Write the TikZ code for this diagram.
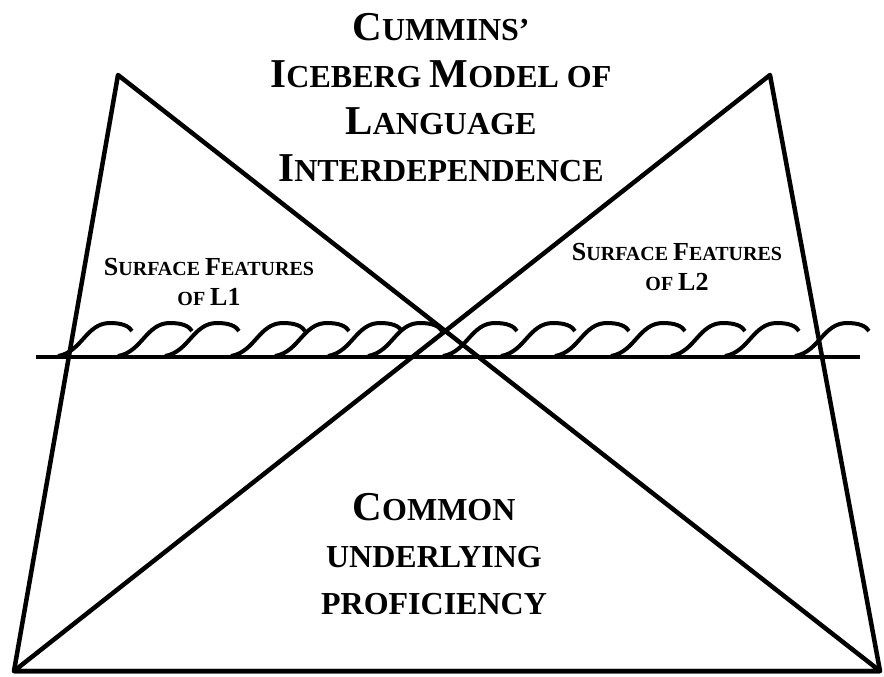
\documentclass[tikz,border=0pt]{standalone}
\usepackage{fontspec}
\setmainfont{Liberation Serif}
\usetikzlibrary{calc}
\newcommand{\capT}[1]{{\fontsize{41}{47}\selectfont #1}}
\newcommand{\capS}[1]{{\fontsize{26}{30}\selectfont #1}}

\begin{document}
\begin{tikzpicture}[x=1pt,y=-1pt,
  edge/.style={line width=4.5pt,line join=round},
  wave/.style={line width=4pt},
  titletext/.style={inner sep=0pt,align=center,font=\bfseries\fontsize{32}{47}\selectfont},
  surftext/.style={inner sep=0pt,align=center,font=\bfseries\fontsize{20}{30}\selectfont}]
\useasboundingbox (0,0) rectangle (884,677);
%% the two triangles
\coordinate (apexL) at (118,75);
\coordinate (apexR) at (770,75);
\coordinate (botL) at (14,671);
\coordinate (botR) at (880,671);
\draw[edge] (apexL) -- (botL) -- (botR) -- cycle;
\draw[edge] (apexR) -- (botL) -- (botR) -- cycle;
%% waterline and waves
\coordinate (seaL) at (36,357);
\coordinate (seaR) at (860,357);
\draw[edge] (seaL) -- (seaR);
\foreach \c in {110,170,217,283,327,380,420,495,553,607,663,723,777,847}
   \draw[wave] (\c-52,356) .. controls (\c-28,352) and (\c-24,323) .. (\c,323) .. controls (\c+12,323) and (\c+19,326) .. (\c+22,331);
%% labels
\node[titletext,anchor=north] (title) at (441,13) {\capT{C}UMMINS’\\ \capT{I}CEBERG \capT{M}ODEL OF\\ \capT{L}ANGUAGE\\ \capT{I}NTERDEPENDENCE};
\node[surftext,anchor=north] (surfL1) at (209,258) {\capS{S}URFACE \capS{F}EATURES\\ OF \capS{L1}};
\node[surftext,anchor=north] (surfL2) at (677,243) {\capS{S}URFACE \capS{F}EATURES\\ OF \capS{L2}};
\node[titletext,anchor=north] (cup) at (434,493) {\capT{C}OMMON\\ UNDERLYING\\ PROFICIENCY};
\end{tikzpicture}
\end{document}
